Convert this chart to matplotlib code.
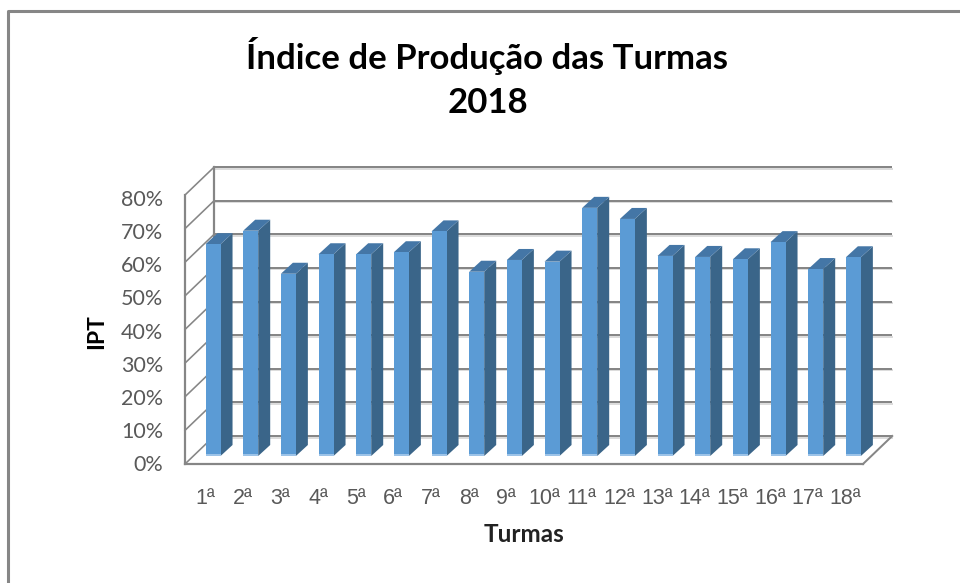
import numpy as np
import matplotlib
matplotlib.use('Agg')
import matplotlib.pyplot as plt
from matplotlib.patches import Polygon

turmas = ['1ª', '2ª', '3ª', '4ª', '5ª', '6ª', '7ª', '8ª', '9ª', '10ª', '11ª', '12ª',
          '13ª', '14ª', '15ª', '16ª', '17ª', '18ª']
ipt = [63, 67, 54.2, 60, 60, 60.6, 66.8, 54.8, 58.3, 57.8, 73.8, 70.5,
       59.5, 59.2, 58.5, 63.6, 55.6, 59.1]
ticks_y = [0, 10, 20, 30, 40, 50, 60, 70, 80]
tick_labels_y = ['0%', '10%', '20%', '30%', '40%', '50%', '60%', '70%', '80%']

plt.rcParams['font.family'] = ['Lato', 'DejaVu Sans']

W, H = 960, 583
fig = plt.figure(figsize=(W / 100, H / 100), dpi=100, facecolor='white')

# eixos no plano da frente das barras
ax = fig.add_axes([194.2 / W, (H - 456) / H, 678 / W, 269 / H])
ax.set_xlim(-0.5, 17.5)
ax.set_ylim(0, 80)
ax.axis('off')

px = 18 / 678
py = 80 / 269

# profundidade (pixels) ate o plano da frente, parede do fundo e fundo da barra
fx, fy = -9.2 * px, -8 * py
wx, wy = 20 * px, 20 * py
bx, by = 12 * px, 11 * py
x0, x1 = -0.5, 17.5

GRID = '#868686'
lw = 2.0 * 0.72

for t in ticks_y:
    # sombra clara + linha de grade
    ax.plot([x0 + wx, x1 + wx], [t + wy - 1.6 * py] * 2, color='#dcdcdc', lw=lw, clip_on=False, zorder=1)
    ax.plot([x0 + wx, x1 + wx], [t + wy] * 2, color=GRID, lw=lw, clip_on=False, zorder=2,
            solid_capstyle='butt')
    ax.plot([x0 + fx, x0 + wx], [t + fy, t + wy], color=GRID, lw=lw * 0.8, clip_on=False, zorder=2)

# paredes e chao
ax.plot([x0 + fx, x0 + fx], [fy, 80 + fy], color=GRID, lw=lw * 1.1, clip_on=False, zorder=2)
ax.plot([x0 + wx, x0 + wx], [wy, 80 + wy], color=GRID, lw=lw * 1.1, clip_on=False, zorder=2)
ax.plot([x0 + fx, x1 + fx], [fy, fy], color=GRID, lw=lw * 1.1, clip_on=False, zorder=2)
ax.plot([x1 + fx, x1 + wx], [fy, wy], color=GRID, lw=lw, clip_on=False, zorder=2)

# barras
larg = 15 * px
xs = np.arange(len(ipt))
ax.bar(xs, ipt, width=larg, color='#5B9BD5', edgecolor='none', zorder=4, clip_on=False)
ax.bar(xs, [0.5] * len(ipt), width=larg, color='#9CC3E8', edgecolor='none', zorder=5, clip_on=False)
for x, v in zip(xs, ipt):
    d = x + larg / 2
    e = x - larg / 2
    ax.add_patch(Polygon([(d, 0), (d + bx, by), (d + bx, v + by), (d, v)], closed=True,
                         fc='#3A6589', ec='none', zorder=3, clip_on=False))
    ax.add_patch(Polygon([(e, v), (d, v), (d + bx, v + by), (e + bx, v + by)], closed=True,
                         fc='#4476A6', ec='none', zorder=3, clip_on=False))

# textos
for t, s in zip(ticks_y, tick_labels_y):
    ax.text(x0 + fx - 22 * px, t * 0.985 - 9 * py, s, ha='right', va='center', fontsize=15.5, color='#595959')
for x, s in zip(xs, turmas):
    ax.text(x - 8 * px, -43 * py, s, ha='center', va='center', fontsize=15.5, color='#595959',
            family=['Liberation Sans', 'DejaVu Sans'])

fig.text(487.5 / W, 1 - 56 / H, 'Índice de Produção das Turmas', ha='center', va='center',
         fontsize=25, fontweight='bold', color='black')
fig.text(487.5 / W, 1 - 103 / H, '2018', ha='center', va='center',
         fontsize=25, fontweight='bold', color='black')
fig.text(97 / W, 1 - 332 / H, 'IPT', ha='center', va='center', rotation=90,
         fontsize=16.5, fontweight='bold', color='black')
fig.text(523.5 / W, 1 - 535 / H, 'Turmas', ha='center', va='center',
         fontsize=17.5, fontweight='bold', color='#222222')

# moldura
fig.add_artist(plt.Line2D([7.5 / W, 7.5 / W, 1], [0, 1 - 11 / H, 1 - 11 / H],
                          color=GRID, lw=2.2))

fig.savefig('out.png', dpi=100)
